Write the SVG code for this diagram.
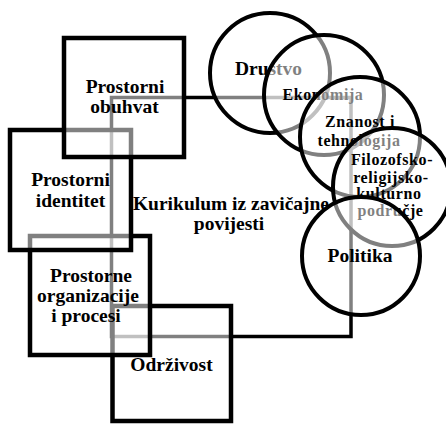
<svg xmlns="http://www.w3.org/2000/svg" width="446" height="424" viewBox="0 0 446 424" font-family="'Liberation Serif', 'Times New Roman', serif">
<style>
.bg{fill:#fff}
.main{fill:#fff;stroke:#000;stroke-width:3.5}
.sq{fill:#fff;fill-opacity:0.5;stroke:#000;stroke-width:4.5}
.ci{fill:#fff;fill-opacity:0.5;stroke:#000;stroke-width:4}
text{font-family:'Liberation Serif','Times New Roman',serif;font-weight:bold;fill:#000;text-anchor:middle}
.big{font-size:19.5px}
.mid{font-size:19.5px}
.sm{font-size:16px;letter-spacing:0.6px}
</style>
<rect class="bg" x="0" y="0" width="446" height="424"/>
<g id="connectors"></g>
<g id="kurikulum">
<rect class="main" x="111.5" y="97.5" width="239.5" height="239"/>
<text class="mid" x="231" y="210">Kurikulum iz zavičajne</text>
<text class="mid" x="229" y="230">povijesti</text>
</g>
<g id="odrzivost">
<rect class="sq" x="112.5" y="306" width="118.5" height="115"/>
<text class="big" x="171.5" y="371">Održivost</text>
</g>
<g id="organizacije">
<rect class="sq" x="30" y="236" width="120" height="119"/>
<text class="big" x="91" y="282">Prostorne</text>
<text class="big" x="88" y="302">organizacije</text>
<text class="big" x="86" y="322">i procesi</text>
</g>
<g id="identitet">
<rect class="sq" x="10" y="130" width="121" height="120"/>
<text class="big" x="70.5" y="186">Prostorni</text>
<text class="big" x="70.5" y="207">identitet</text>
</g>
<g id="obuhvat">
<rect class="sq" x="64" y="38" width="120" height="119"/>
<text class="big" x="125" y="93">Prostorni</text>
<text class="big" x="124.5" y="113">obuhvat</text>
</g>
<g id="drustvo">
<circle class="ci" cx="270" cy="73" r="60"/>
<text class="mid" x="268.5" y="75">Drustvo</text>
</g>
<g id="ekonomija">
<circle class="ci" cx="324" cy="95" r="60"/>
<text class="sm" x="323" y="100">Ekonomija</text>
</g>
<g id="znanost">
<circle class="ci" cx="360" cy="137" r="60"/>
<text class="sm" x="360" y="127">Znanost i</text>
<text class="sm" x="359" y="146">tehnologija</text>
</g>
<g id="filozofsko">
<circle class="ci" cx="392" cy="187" r="59"/>
<text class="sm" x="392" y="165">Filozofsko-</text>
<text class="sm" x="391" y="183">religijsko-</text>
<text class="sm" x="389" y="199">kulturno</text>
<text class="sm" x="390.5" y="216">područje</text>
</g>
<g id="politika">
<circle class="ci" cx="361" cy="256" r="59"/>
<text class="big" x="360" y="262">Politika</text>
</g>
</svg>
